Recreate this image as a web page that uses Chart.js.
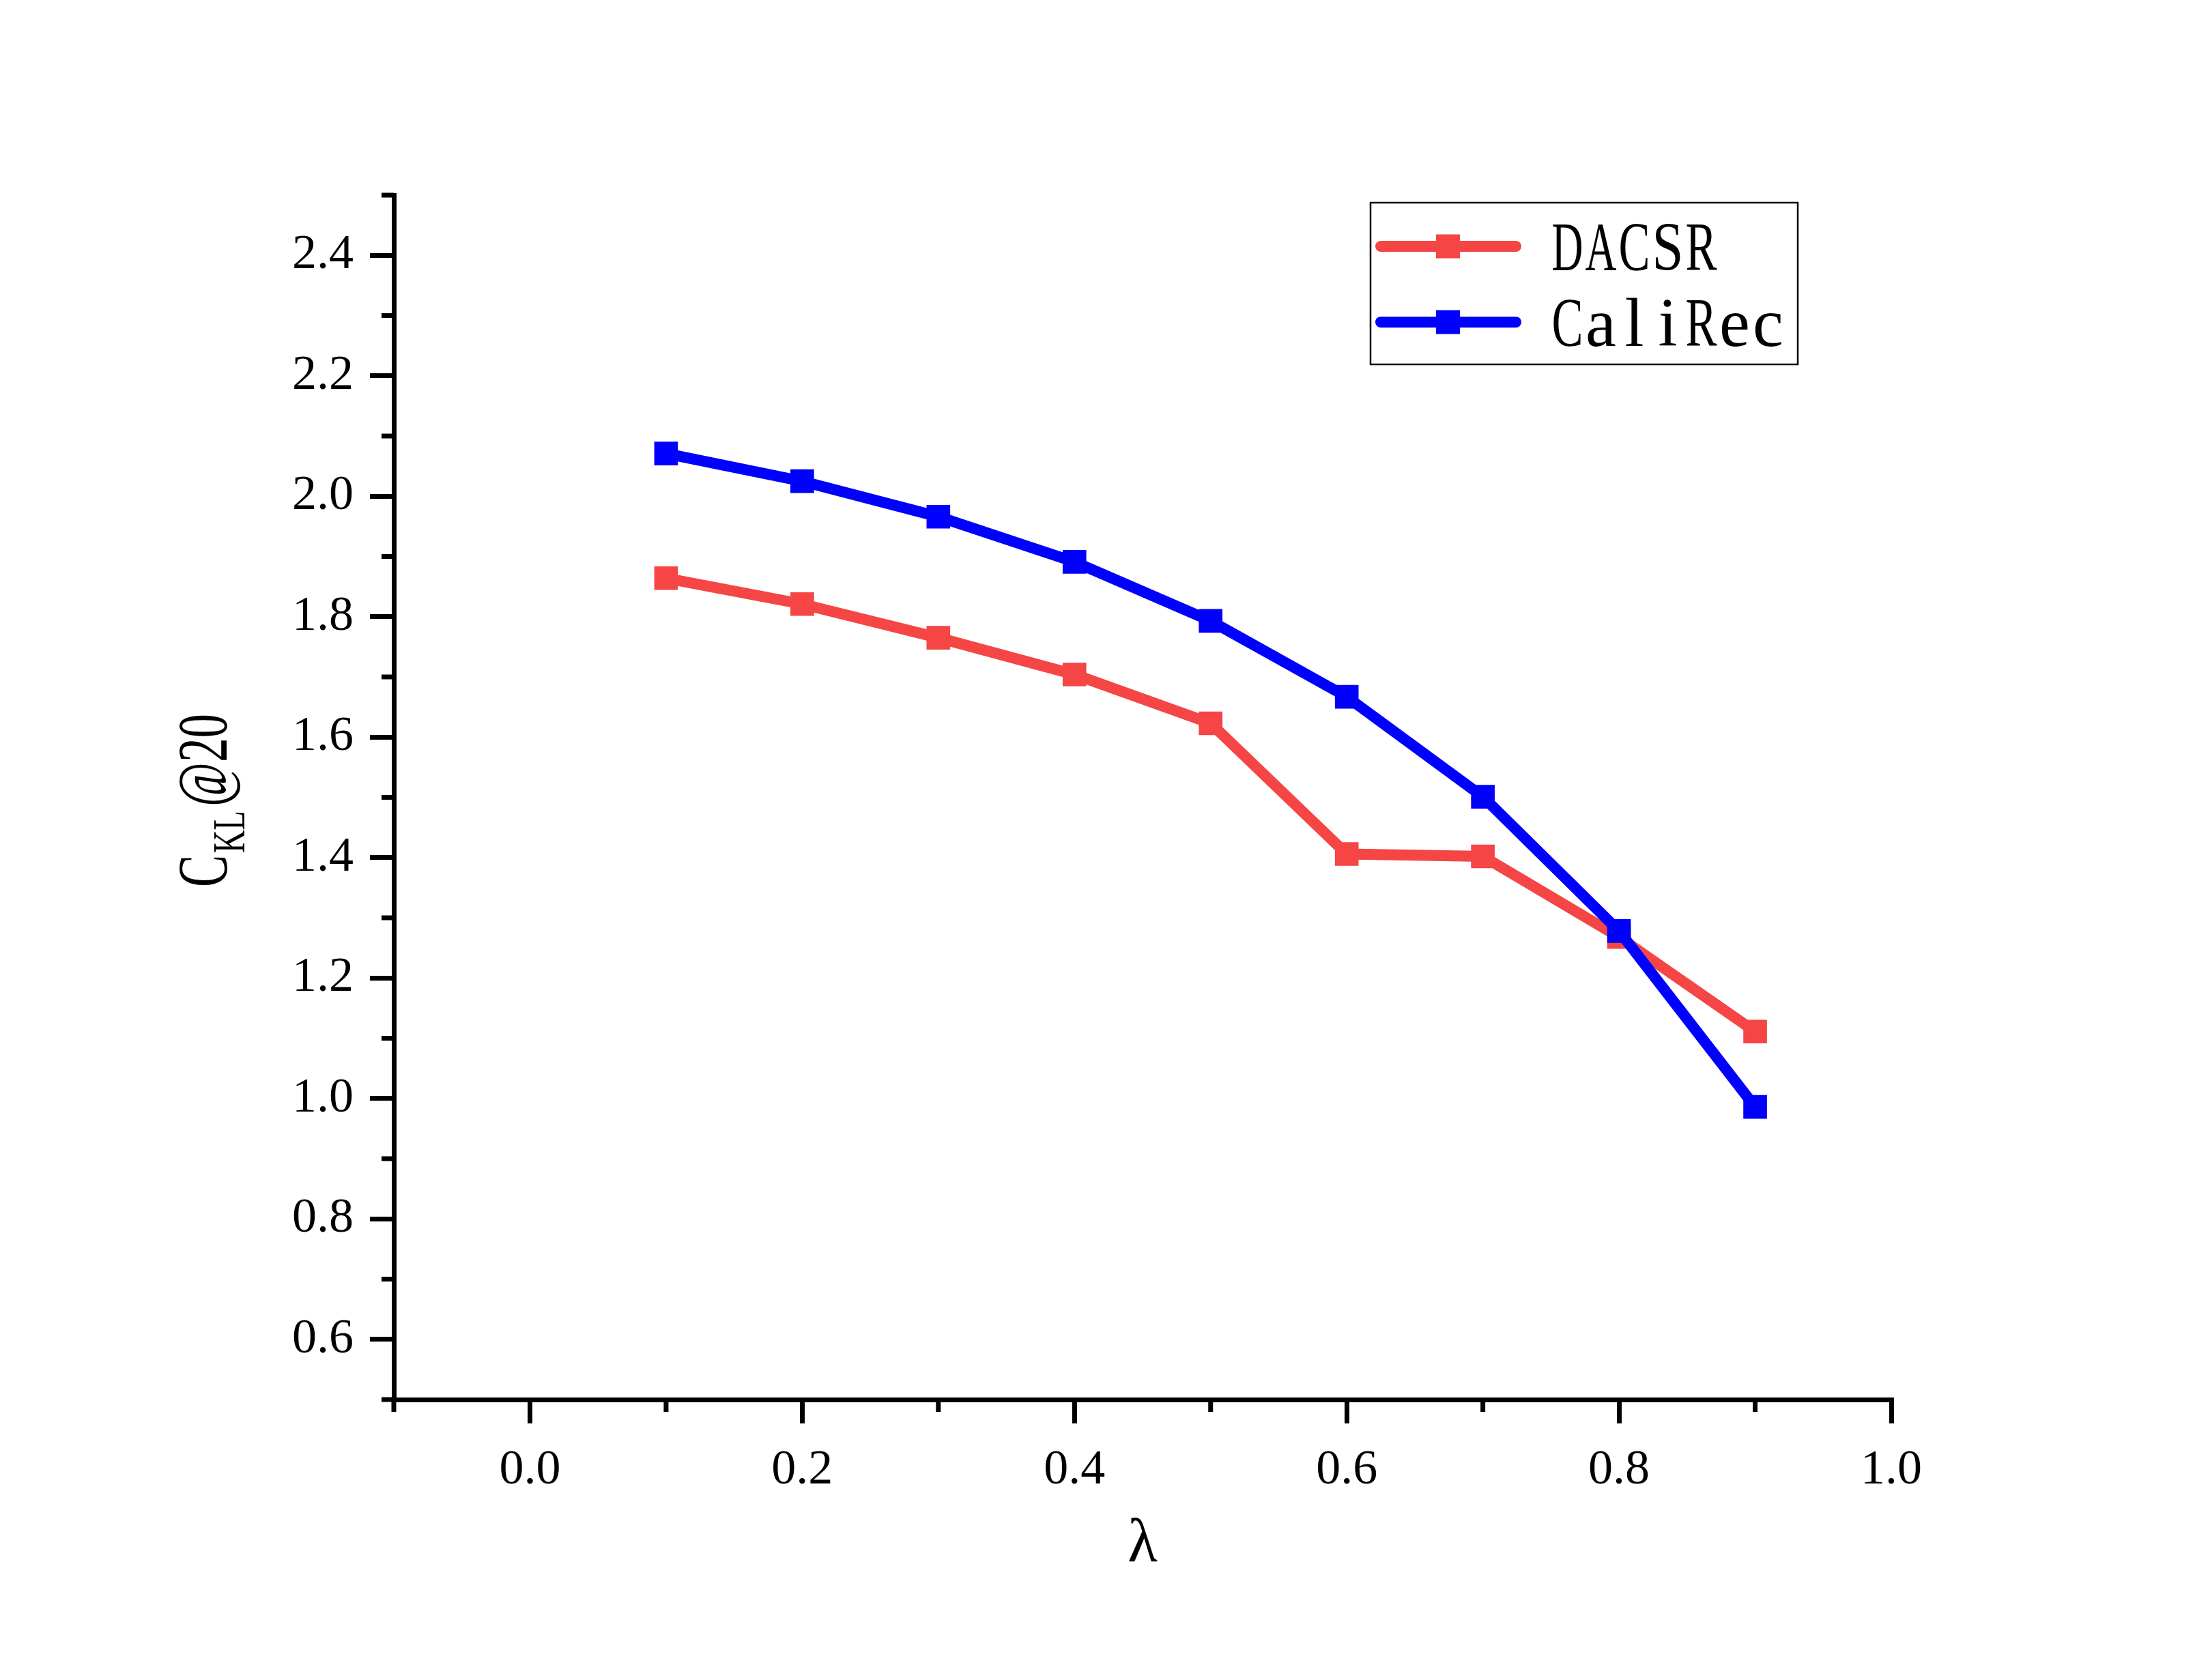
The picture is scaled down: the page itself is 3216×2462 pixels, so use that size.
<!DOCTYPE html>
<html>
<head>
<meta charset="utf-8">
<style>
  html, body { margin: 0; padding: 0; background: #fff; }
  canvas { display: block; }
</style>
</head>
<body>
<canvas id="myChart" width="3216" height="2462"></canvas>
<script src="https://cdn.jsdelivr.net/npm/chart.js@4.4.0/dist/chart.umd.min.js"></script>
<script>
// values
var lambdas = [0.1, 0.2, 0.3, 0.4, 0.5, 0.6, 0.7, 0.8, 0.9];
var dacsr   = [1.864, 1.821, 1.765, 1.704, 1.623, 1.406, 1.402, 1.268, 1.111];
var calirec = [2.071, 2.025, 1.966, 1.891, 1.793, 1.667, 1.501, 1.278, 0.986];

var xMajor = [0.0, 0.2, 0.4, 0.6, 0.8, 1.0];
var xMinor = [-0.1, 0.1, 0.3, 0.5, 0.7, 0.9];
var yMajor = [0.6, 0.8, 1.0, 1.2, 1.4, 1.6, 1.8, 2.0, 2.2, 2.4];
var yMinor = [0.5, 0.7, 0.9, 1.1, 1.3, 1.5, 1.7, 1.9, 2.1, 2.3, 2.5];

var RED = '#F54545';
var BLUE = '#0000FF';
var SERIF = '"Liberation Serif", "DejaVu Serif", serif';

function pts(vals) {
  return vals.map(function (v, i) { return { x: lambdas[i], y: v }; });
}

// draw text as a half-width "monospace" run (each glyph in a fixed cell)
function drawMono(ctx, text, x, y, cell, font) {
  ctx.font = font;
  ctx.textAlign = 'center';
  ctx.textBaseline = 'alphabetic';
  for (var i = 0; i < text.length; i++) {
    var ch = text[i];
    var w = ctx.measureText(ch).width;
    var s = Math.min(1, (cell - 3) / w);
    ctx.save();
    ctx.translate(x + cell * i + cell / 2, y);
    ctx.scale(s, 1);
    ctx.fillText(ch, 0, 0);
    ctx.restore();
  }
}

var minorTicks = {
  id: 'minorTicks',
  afterDraw: function (chart) {
    var ctx = chart.ctx, a = chart.chartArea;
    var xs = chart.scales.x, ys = chart.scales.y;
    ctx.save();
    ctx.strokeStyle = '#000';
    ctx.lineWidth = 7;
    ctx.beginPath();
    xMinor.forEach(function (v) {
      var px = xs.getPixelForValue(v);
      ctx.moveTo(px, a.bottom);
      ctx.lineTo(px, a.bottom + 18);
    });
    yMinor.forEach(function (v) {
      var py = ys.getPixelForValue(v);
      ctx.moveTo(a.left, py);
      ctx.lineTo(a.left - 18, py);
    });
    ctx.stroke();
    ctx.restore();
  }
};

var yTitle = {
  id: 'yTitle',
  afterDraw: function (chart) {
    var ctx = chart.ctx;
    ctx.save();
    ctx.fillStyle = '#000';
    ctx.textAlign = 'left';
    ctx.textBaseline = 'alphabetic';
    ctx.translate(332, 1300);
    ctx.rotate(-Math.PI / 2);
    ctx.scale(0.68, 1);
    ctx.font = '104px ' + SERIF;
    ctx.fillText('C', 0, 0);
    ctx.fillText('@20', 118 / 0.68, 0);
    ctx.font = '68px ' + SERIF;
    ctx.fillText('KL', 50 / 0.68, 26);
    ctx.restore();
  }
};

var legendBox = {
  id: 'legendBox',
  afterDraw: function (chart) {
    var ctx = chart.ctx;
    ctx.save();
    ctx.strokeStyle = '#000';
    ctx.lineWidth = 2.5;
    ctx.strokeRect(2008, 297, 626, 237);
    chart.data.datasets.forEach(function (ds, i) {
      var cy = 361 + i * 111;
      ctx.strokeStyle = ds.borderColor;
      ctx.lineWidth = 16;
      ctx.lineCap = 'round';
      ctx.beginPath();
      ctx.moveTo(2023, cy);
      ctx.lineTo(2221, cy);
      ctx.stroke();
      ctx.fillStyle = ds.borderColor;
      ctx.fillRect(2104, cy - 17.5, 35, 35);
      ctx.fillStyle = '#000';
      drawMono(ctx, ds.label, 2272, cy + 35, 49, '101px ' + SERIF);
    });
    ctx.restore();
  }
};

var chart = new Chart(document.getElementById('myChart'), {
  type: 'line',
  data: {
    datasets: [
      {
        label: 'DACSR',
        data: pts(dacsr),
        borderColor: RED,
        backgroundColor: RED,
        borderWidth: 16,
        pointStyle: 'rect',
        pointRadius: 24.5,
        pointBorderWidth: 0,
        pointBackgroundColor: RED,
        tension: 0,
        order: 2
      },
      {
        label: 'CaliRec',
        data: pts(calirec),
        borderColor: BLUE,
        backgroundColor: BLUE,
        borderWidth: 16,
        pointStyle: 'rect',
        pointRadius: 24.5,
        pointBorderWidth: 0,
        pointBackgroundColor: BLUE,
        tension: 0,
        order: 1
      }
    ]
  },
  options: {
    responsive: false,
    animation: false,
    devicePixelRatio: 1,
    layout: { padding: { left: 0, right: 445, top: 286, bottom: 0 } },
    plugins: {
      legend: { display: false },
      tooltip: { enabled: false }
    },
    scales: {
      x: {
        type: 'linear',
        min: -0.1,
        max: 1.0,
        afterBuildTicks: function (s) { s.ticks = xMajor.map(function (v) { return { value: v }; }); },
        afterFit: function (s) { s.height = 411; },
        grid: { drawOnChartArea: false, drawTicks: true, tickLength: 35, tickWidth: 7, lineWidth: 7, tickColor: '#000', color: '#000' },
        border: { display: true, width: 7, color: '#000' },
        ticks: {
          color: '#000',
          font: { family: SERIF, size: 72 },
          padding: 26,
          maxRotation: 0,
          autoSkip: false,
          callback: function (v) { return Number(v).toFixed(1); }
        },
        title: {
          display: true,
          text: 'λ',
          color: '#000',
          font: { family: SERIF, size: 90 },
          padding: { top: 0, bottom: 144 }
        }
      },
      y: {
        type: 'linear',
        min: 0.5,
        max: 2.5,
        afterBuildTicks: function (s) { s.ticks = yMajor.map(function (v) { return { value: v }; }); },
        afterFit: function (s) { s.width = 577; },
        grid: { drawOnChartArea: false, drawTicks: true, tickLength: 35, tickWidth: 7, lineWidth: 7, tickColor: '#000', color: '#000' },
        border: { display: true, width: 7, color: '#000' },
        ticks: {
          color: '#000',
          font: { family: SERIF, size: 72 },
          padding: 24,
          autoSkip: false,
          callback: function (v) { return Number(v).toFixed(1); }
        }
      }
    }
  },
  plugins: [minorTicks, yTitle, legendBox]
});
</script>
</body>
</html>
